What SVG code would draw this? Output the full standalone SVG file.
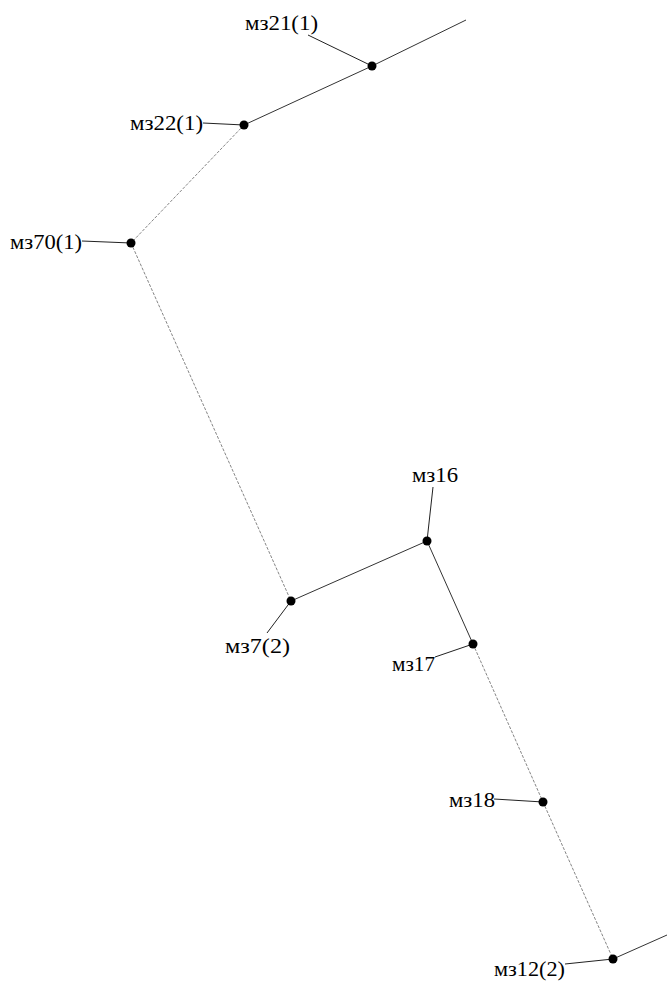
<svg xmlns="http://www.w3.org/2000/svg" width="667" height="985" viewBox="0 0 667 985">
<style>
.ln{stroke:#333;stroke-width:1;fill:none}
.fn{stroke:#777;stroke-width:0.9;fill:none;stroke-dasharray:3 1.5}
.ld{stroke:#222;stroke-width:1;fill:none}
.nd{fill:#000}
text{font-family:"Liberation Serif","Times New Roman",serif;font-size:21px;fill:#000}
</style>
<rect width="667" height="985" fill="#fff"/>
<g id="connectors">
<line class="ln" x1="466" y1="20" x2="372" y2="66"/>
<line class="ln" x1="372" y1="66" x2="244" y2="125"/>
<line class="fn" x1="244" y1="125" x2="131" y2="243"/>
<line class="fn" x1="131" y1="243" x2="291" y2="601"/>
<line class="ln" x1="291" y1="601" x2="427" y2="541"/>
<line class="ln" x1="427" y1="541" x2="473" y2="644"/>
<line class="fn" x1="473" y1="644" x2="543" y2="802"/>
<line class="fn" x1="543" y1="802" x2="613" y2="959"/>
<line class="ln" x1="613" y1="959" x2="667" y2="935"/>
</g>
<g id="n321"><line class="ld" x1="308" y1="35" x2="372" y2="66"/><circle class="nd" cx="372" cy="66" r="4.5"/><text x="245" y="30" textLength="73" lengthAdjust="spacingAndGlyphs">мз21(1)</text></g>
<g id="n322"><line class="ld" x1="203" y1="123" x2="244" y2="125"/><circle class="nd" cx="244" cy="125" r="4.5"/><text x="130" y="130" textLength="73" lengthAdjust="spacingAndGlyphs">мз22(1)</text></g>
<g id="n370"><line class="ld" x1="82" y1="241" x2="131" y2="243"/><circle class="nd" cx="131" cy="243" r="4.5"/><text x="10" y="249" textLength="72" lengthAdjust="spacingAndGlyphs">мз70(1)</text></g>
<g id="n316"><line class="ld" x1="433" y1="487" x2="427" y2="541"/><circle class="nd" cx="427" cy="541" r="4.5"/><text x="412" y="482" textLength="46" lengthAdjust="spacingAndGlyphs">мз16</text></g>
<g id="n37"><line class="ld" x1="267" y1="633" x2="291" y2="601"/><circle class="nd" cx="291" cy="601" r="4.5"/><text x="225" y="653" textLength="65" lengthAdjust="spacingAndGlyphs">мз7(2)</text></g>
<g id="n317"><line class="ld" x1="435" y1="657" x2="473" y2="644"/><circle class="nd" cx="473" cy="644" r="4.5"/><text x="392" y="671" textLength="43" lengthAdjust="spacingAndGlyphs">мз17</text></g>
<g id="n318"><line class="ld" x1="494" y1="799" x2="543" y2="802"/><circle class="nd" cx="543" cy="802" r="4.5"/><text x="449" y="807" textLength="46" lengthAdjust="spacingAndGlyphs">мз18</text></g>
<g id="n312"><line class="ld" x1="565" y1="964" x2="613" y2="959"/><circle class="nd" cx="613" cy="959" r="4.5"/><text x="494" y="976" textLength="71" lengthAdjust="spacingAndGlyphs">мз12(2)</text></g>
</svg>
